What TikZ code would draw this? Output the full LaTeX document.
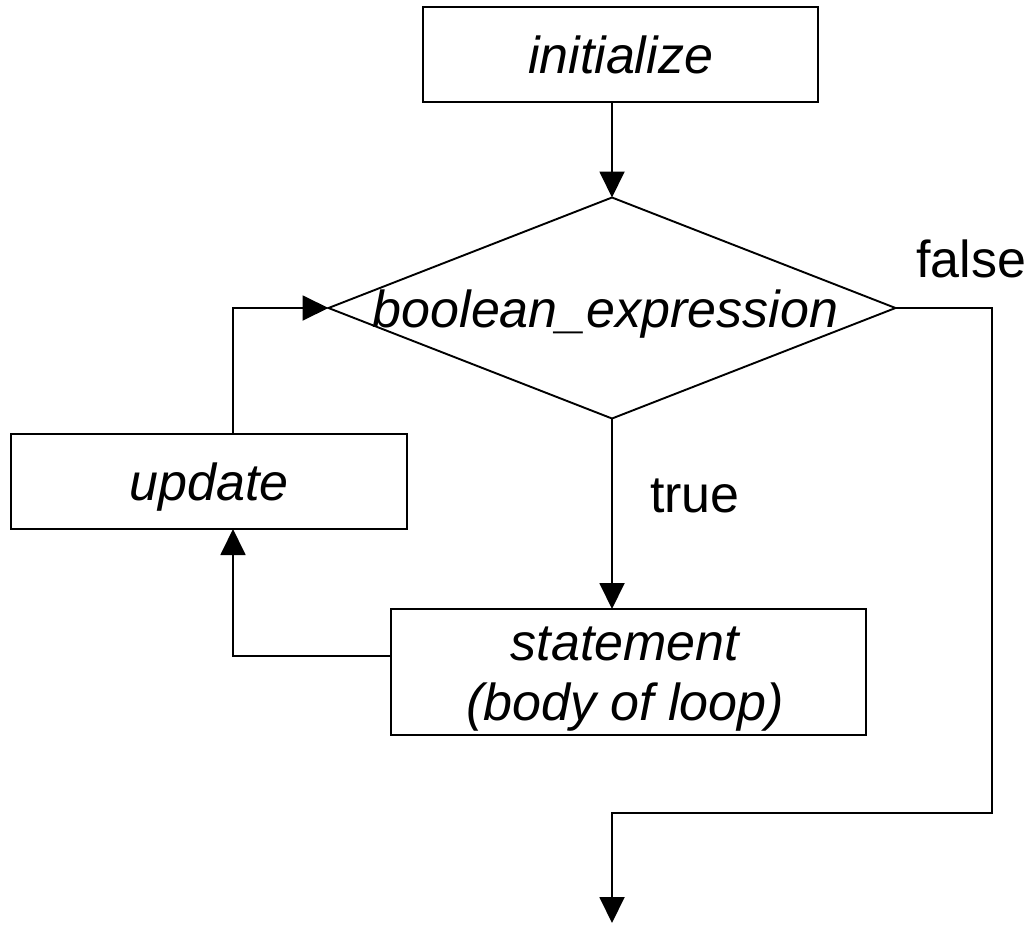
\documentclass[tikz,border=0pt]{standalone}
\usepackage{fontspec}
\setmainfont{Liberation Sans}
\usetikzlibrary{arrows.meta,shapes.geometric}
\begin{document}
\begin{tikzpicture}[x=1pt,y=-1pt,
  every node/.style={font=\fontsize{52}{60}\selectfont},
  flowbox/.style={draw,line width=1.9pt,rectangle,inner sep=0pt,outer sep=0pt,font=\fontsize{52}{60}\selectfont\itshape,text depth=0pt},
  decision/.style={draw,line width=1.9pt,diamond,inner sep=0pt,outer sep=0pt,minimum width=567pt,minimum height=221pt},
  boxtext/.style={inner sep=0pt,font=\fontsize{52}{60}\selectfont\itshape,align=center},
  plain/.style={inner sep=0pt,font=\fontsize{52}{60}\selectfont},
  arr/.style={line width=1.9pt,-{Triangle[length=26pt,width=25pt]}}
]
\useasboundingbox (0,0) rectangle (1033,924);
\node[flowbox,minimum width=395pt,minimum height=95pt] (init) at (620.5,54.5) {initialize\hspace{14pt}};
\node[decision] (dec) at (612,308) {};
\node[boxtext] (dectext) at (605.5,314) {boolean\_expression};
\node[flowbox,minimum width=396pt,minimum height=95pt] (upd) at (209,481.5) {update\hspace{10pt}};
\node[flowbox,minimum width=475pt,minimum height=126pt] (stmt) at (628.5,672) {};
\node[boxtext] (stmttext) at (625,679) {statement\\(body of loop)};
\node[plain,anchor=base west] (falselbl) at (916,277) {false};
\node[plain,anchor=base west] (truelbl) at (650,512) {true};
\coordinate (lp) at (233,656);
\coordinate (fr) at (992,813);
\coordinate (endpt) at (612,923);
% connectors
\draw[arr] (init.south -| dec.north) -- (dec.north);
\draw[arr] (dec.south) -- (dec.south |- stmt.north);
\draw[arr] (stmt.west |- lp) -- (lp) -- (lp |- upd.south);
\draw[arr] (lp |- upd.north) |- (dec.west);
\draw[arr] (dec.east) -| (fr) -- (fr -| endpt) -- (endpt);
\end{tikzpicture}
\end{document}
